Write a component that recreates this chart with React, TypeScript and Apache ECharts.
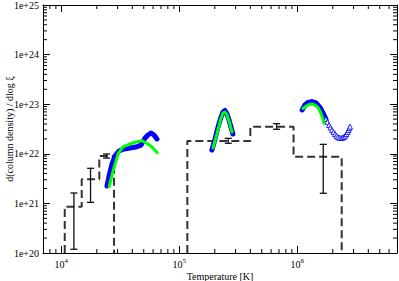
import React, { useEffect, useRef } from "react";
import * as echarts from "echarts";

const X_MIN = 7e3;
const X_MAX = 7e6;
const Y_MIN = 1e20;
const Y_MAX = 1e25;

// histogram (dashed steps)
const binEdges = [10.7e3, 14.9e3, 21.0e3, 28.0e3, 1.17e5, 4.0e5, 9.3e5, 2.38e6];
const binValues = [8.6e20, 3.06e21, 9.0e21, 0, 1.81e22, 3.5e22, 8.7e21];

// error bars: [T, low, high]
const errorBars = [
  [12.8e3, 1.19e20, 1.62e21],
  [17.7e3, 1.05e21, 5.1e21],
  [24.2e3, 8.2e21, 9.9e21],
  [2.6e5, 1.63e22, 2.05e22],
  [6.68e5, 3.12e22, 4.05e22],
  [1.66e6, 1.6e21, 1.55e22],
];

// blue model band
const blueLow = [
  [24.4e3, 2.24e21], [25.4e3, 3.57e21], [26.9e3, 6.23e21], [28.5e3, 9.03e21],
  [30.8e3, 1.14e22], [34.0e3, 1.25e22], [38.2e3, 1.31e22], [43.0e3, 1.37e22],
  [47.4e3, 1.5e22], [51.3e3, 2.08e22], [54.3e3, 2.39e22], [57.6e3, 2.63e22],
  [61.1e3, 2.39e22], [64.7e3, 1.99e22],
];
const blueMid = [
  [1.89e5, 1.19e22], [2.01e5, 1.99e22], [2.13e5, 3.47e22], [2.26e5, 5.52e22],
  [2.35e5, 6.97e22], [2.44e5, 7.47e22], [2.54e5, 6.35e22], [2.64e5, 4.8e22],
  [2.74e5, 3.47e22], [2.85e5, 2.51e22],
];
const blueHigh = [
  [1.1e6, 7.64e22], [1.16e6, 9.63e22], [1.23e6, 1.08e23], [1.33e6, 1.13e23],
  [1.44e6, 1.06e23], [1.56e6, 8.58e22], [1.65e6, 6.65e22], [1.75e6, 5.03e22],
];
const blueHighTail = [
  [1.75e6, 5.03e22], [1.8e6, 4.4e22], [1.86e6, 3.81e22], [1.91e6, 3.4e22],
  [1.97e6, 3.02e22], [2.03e6, 2.75e22], [2.09e6, 2.51e22], [2.15e6, 2.3e22],
  [2.21e6, 2.18e22], [2.28e6, 2.1e22], [2.35e6, 2.08e22], [2.42e6, 2.12e22],
  [2.49e6, 2.18e22], [2.55e6, 2.32e22], [2.61e6, 2.51e22], [2.67e6, 2.75e22],
  [2.72e6, 3.02e22], [2.76e6, 3.3e22], [2.8e6, 3.55e22],
];

// green model curve
const greenLow = [
  [25.5e3, 2.17e21], [27.6e3, 4.7e21], [30.4e3, 1.02e22], [33.5e3, 1.39e22],
  [40.8e3, 1.67e22], [48e3, 1.84e22], [53e3, 1.63e22], [58.4e3, 1.39e22],
  [65.1e3, 1.05e22],
];
const greenMid = [
  [1.93e5, 1.31e22], [2.05e5, 2.18e22], [2.17e5, 3.63e22], [2.26e5, 5.27e22],
  [2.35e5, 6.65e22], [2.44e5, 6.97e22], [2.54e5, 6.06e22], [2.64e5, 4.59e22],
  [2.72e5, 3.47e22], [2.8e5, 2.75e22],
];
const greenHigh = [
  [1.12e6, 8.19e22], [1.19e6, 9.2e22], [1.26e6, 9.86e22], [1.33e6, 1.01e23],
  [1.41e6, 9.63e22], [1.5e6, 8.58e22], [1.57e6, 6.97e22], [1.64e6, 5.27e22],
  [1.68e6, 4.18e22],
];

const FONT = "'Liberation Serif', 'Times New Roman', serif";

function minorTicks(lo: number, hi: number): number[] {
  const out: number[] = [];
  for (let e = Math.floor(Math.log10(lo)); e <= Math.ceil(Math.log10(hi)); e++) {
    for (let k = 2; k <= 9; k++) {
      const v = k * Math.pow(10, e);
      if (v > lo * 1.0001 && v < hi * 0.9999) out.push(v);
    }
  }
  return out;
}

function histogramRuns(): number[][][] {
  const runs: number[][][] = [];
  let cur: number[][] | null = null;
  for (let i = 0; i < binValues.length; i++) {
    const v = binValues[i];
    if (v > 0) {
      if (!cur) {
        cur = [[binEdges[i], Y_MIN]];
      }
      cur.push([binEdges[i], v]);
      cur.push([binEdges[i + 1], v]);
    } else if (cur) {
      cur.push([binEdges[i], Y_MIN]);
      runs.push(cur);
      cur = null;
    }
  }
  if (cur) {
    cur.push([binEdges[binValues.length], Y_MIN]);
    runs.push(cur);
  }
  return runs;
}

function expOf(v: number): number | null {
  const e = Math.round(Math.log10(v));
  if (Math.abs(Math.pow(10, e) - v) / v > 1e-6) return null;
  return e;
}

export default function App() {
  const ref = useRef<HTMLDivElement>(null);
  useEffect(() => {
    if (!ref.current) return;
    const chart = echarts.init(ref.current, null, { renderer: "svg" });
    const axisLine = { show: true, lineStyle: { color: "#000", width: 1 } };
    const majorTick = { show: true, inside: true, length: 7, lineStyle: { color: "#000", width: 1 } };

    const histSeries = histogramRuns().map((run) => ({
      type: "line",
      data: run,
      symbol: "none",
      lineStyle: { color: "#333", width: 2, type: [8, 4] },
      z: 2,
    }));

    const blueLine = (d: number[][]) => ({
      type: "line",
      data: d,
      symbol: "none",
      lineStyle: { color: "#0000ff", width: 5, cap: "round", join: "round" },
      z: 4,
    });
    const greenLine = (d: number[][]) => ({
      type: "line",
      data: d,
      symbol: "none",
      lineStyle: { color: "#00ff00", width: 3, cap: "round", join: "round" },
      z: 5,
    });

    chart.setOption({
      animation: false,
      grid: { left: 43, right: 2, top: 5, bottom: 28, containLabel: false, outerBoundsMode: "none" },
      xAxis: [
        {
          type: "log",
          min: X_MIN,
          max: X_MAX,
          position: "bottom",
          axisLine,
          axisTick: majorTick,
          splitLine: { show: false },
          name: "Temperature [K]",
          nameLocation: "middle",
          nameGap: 18,
          nameMoveOverlap: false,
          nameTextStyle: { fontFamily: FONT, fontSize: 10, color: "#000" },
          axisLabel: {
            margin: 4,
            showMinLabel: false,
            showMaxLabel: false,
            formatter: (v: number) => {
              const e = expOf(v);
              return e === null ? "" : `{b|10}{s|${e}}`;
            },
            rich: {
              b: { fontFamily: FONT, fontSize: 10, color: "#000", lineHeight: 14 },
              s: { fontFamily: FONT, fontSize: 7, color: "#000", lineHeight: 14, padding: [0, 0, 6, 0] },
            },
          },
        },
        {
          type: "log",
          min: X_MIN,
          max: X_MAX,
          position: "top",
          axisLine,
          axisTick: majorTick,
          axisLabel: { show: false },
          splitLine: { show: false },
        },
      ],
      yAxis: [
        {
          type: "log",
          min: Y_MIN,
          max: Y_MAX,
          position: "left",
          axisLine,
          axisTick: majorTick,
          splitLine: { show: false },
          name: "d(column density) / dlog ξ",
          nameLocation: "middle",
          nameRotate: 90,
          nameGap: 29,
          nameMoveOverlap: false,
          nameTextStyle: { fontFamily: FONT, fontSize: 10, color: "#000" },
          axisLabel: {
            margin: 4,
            fontFamily: FONT,
            fontSize: 10,
            color: "#000",
            formatter: (v: number) => {
              const e = expOf(v);
              return e === null ? "" : `1e+${e}`;
            },
          },
        },
        {
          type: "log",
          min: Y_MIN,
          max: Y_MAX,
          position: "right",
          axisLine,
          axisTick: majorTick,
          axisLabel: { show: false },
          splitLine: { show: false },
        },
      ],
      series: [
        ...histSeries,
        {
          type: "custom",
          data: errorBars,
          encode: { x: 0, y: [1, 2] },
          z: 3,
          renderItem: (params: any, api: any) => {
            const x = api.value(0);
            const lo = api.coord([x, api.value(1)]);
            const hi = api.coord([x, api.value(2)]);
            const st = { stroke: "#111", lineWidth: 1.3 };
            return {
              type: "group",
              children: [
                { type: "line", shape: { x1: lo[0], y1: lo[1], x2: hi[0], y2: hi[1] }, style: st },
                { type: "line", shape: { x1: lo[0] - 3.5, y1: lo[1], x2: lo[0] + 3.5, y2: lo[1] }, style: st },
                { type: "line", shape: { x1: hi[0] - 3.5, y1: hi[1], x2: hi[0] + 3.5, y2: hi[1] }, style: st },
              ],
            };
          },
        },
        blueLine(blueLow),
        blueLine(blueMid),
        blueLine(blueHigh),
        {
          type: "scatter",
          data: blueHighTail,
          symbol: "triangle",
          symbolSize: 5,
          itemStyle: { color: "#fff", borderColor: "#0000ff", borderWidth: 1 },
          z: 4,
        },
        greenLine(greenLow),
        greenLine(greenMid),
        greenLine(greenHigh),
        {
          type: "custom",
          data: minorTicks(X_MIN, X_MAX).map((v) => [v, Y_MIN]),
          encode: { x: 0, y: 1 },
          z: 10,
          renderItem: (params: any, api: any) => {
            const v = api.value(0);
            const b = api.coord([v, Y_MIN]);
            const t = api.coord([v, Y_MAX]);
            const st = { stroke: "#000", lineWidth: 1 };
            return {
              type: "group",
              children: [
                { type: "line", shape: { x1: b[0], y1: b[1], x2: b[0], y2: b[1] - 4 }, style: st },
                { type: "line", shape: { x1: t[0], y1: t[1], x2: t[0], y2: t[1] + 4 }, style: st },
              ],
            };
          },
        },
        {
          type: "custom",
          data: minorTicks(Y_MIN, Y_MAX).map((v) => [X_MIN, v]),
          encode: { x: 0, y: 1 },
          z: 10,
          renderItem: (params: any, api: any) => {
            const v = api.value(1);
            const l = api.coord([X_MIN, v]);
            const r = api.coord([X_MAX, v]);
            const st = { stroke: "#000", lineWidth: 1 };
            return {
              type: "group",
              children: [
                { type: "line", shape: { x1: l[0], y1: l[1], x2: l[0] + 4, y2: l[1] }, style: st },
                { type: "line", shape: { x1: r[0], y1: r[1], x2: r[0] - 4, y2: r[1] }, style: st },
              ],
            };
          },
        },
      ],
    });
    return () => chart.dispose();
  }, []);
  return (
    <div
      ref={ref}
      style={{ position: "fixed", left: 0, top: 0, width: 399, height: 281, background: "#fff" }}
    />
  );
}
